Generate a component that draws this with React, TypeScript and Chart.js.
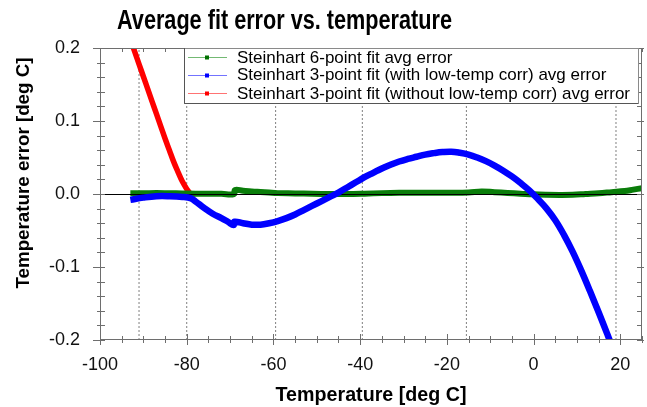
import React, { useEffect, useRef } from 'react';
import { Chart, registerables } from 'chart.js';

Chart.register(...registerables);

const TITLE = 'Average fit error vs. temperature';
const X_TITLE = 'Temperature [deg C]';
const Y_TITLE = 'Temperature error [deg C]';
const seriesNames = [
  'Steinhart 6-point fit avg error',
  'Steinhart 3-point fit (with low-temp corr) avg error',
  'Steinhart 3-point fit (without low-temp corr) avg error',
];
const seriesColors = ['#0a7d0a', '#0000ff', '#ff0000'];

const xMin = -100;
const xMax = 25;
const yMin = -0.2;
const yMax = 0.2;
const xTickValues = [-100, -80, -60, -40, -20, 0, 20];
const yTickValues = [-0.2, -0.1, 0, 0.1, 0.2];
const yTickLabels = ['-0.2', '-0.1', '0.0', '0.1', '0.2'];
const xMinorStep = 5;
const yMinorStep = 0.02;

// calibration temperatures (dotted verticals)
const calibTemps = [-91, -80, -59.5, -39.5, -15.5, 19];

// Steinhart 6-point fit
const greenTemps = [-93, -90, -87, -84, -81, -78, -75, -72, -69.1, -68.9, -67, -65, -63, -61, -59, -55, -51, -47, -43, -39, -35, -31, -27, -23, -19, -15, -12, -9, -6, -3, 0, 3, 6, 9, 12, 15, 18, 21, 23, 25];
const greenErr = [0.001, 0.001, 0.0012, 0.001, 0.0008, 0.0005, 0.0005, 0.0003, 0.0, 0.0055, 0.0045, 0.0035, 0.0027, 0.0019, 0.0012, 0.0008, 0.0003, 0.0, 0.0, 0.0005, 0.0012, 0.0016, 0.0018, 0.0018, 0.0018, 0.0022, 0.0035, 0.0025, 0.0015, 0.0005, -0.0005, -0.001, -0.0012, -0.001, 0.0, 0.001, 0.0025, 0.004, 0.006, 0.008];

// Steinhart 3-point fit with low-temp correction
const blueTemps = [-93, -90, -87, -84, -81, -79, -78, -76, -74, -72, -70.5, -69.2, -69.0, -67, -65, -63, -61, -59, -57, -55, -53, -51, -49, -47, -45, -43, -41, -39, -37, -35, -33, -31, -29, -27, -25, -23, -21, -19, -17, -15, -13, -11, -9, -7, -5, -3, -1, 1, 3, 5, 7, 9, 11, 13, 15, 17, 19];
const blueErr = [-0.008, -0.005, -0.003, -0.003, -0.004, -0.006, -0.010, -0.019, -0.027, -0.033, -0.038, -0.0425, -0.038, -0.040, -0.042, -0.042, -0.040, -0.037, -0.033, -0.028, -0.022, -0.016, -0.010, -0.004, 0.002, 0.009, 0.016, 0.023, 0.029, 0.035, 0.040, 0.0445, 0.048, 0.051, 0.054, 0.056, 0.0575, 0.058, 0.0565, 0.054, 0.050, 0.045, 0.039, 0.032, 0.024, 0.015, 0.005, -0.007, -0.020, -0.036, -0.056, -0.079, -0.105, -0.133, -0.162, -0.192, -0.223];

// Steinhart 3-point fit without low-temp correction
const redTemps = [-93, -92, -91, -90, -89, -88, -87, -86, -85, -84, -83, -82, -81, -80, -79, -78.5];
const redErr = [0.212, 0.195, 0.178, 0.161, 0.144, 0.127, 0.110, 0.093, 0.076, 0.060, 0.044, 0.030, 0.017, 0.007, -0.001, -0.005];

const pts = (xs: number[], ys: number[]) => xs.map((x, i) => ({ x, y: ys[i] }));

const FONT = "'Liberation Sans', Arial, sans-serif";

function fitText(ctx: CanvasRenderingContext2D, text: string, cx: number, base: number, width: number, font: string) {
  ctx.font = font;
  const w = ctx.measureText(text).width;
  ctx.save();
  ctx.translate(cx, base);
  ctx.scale(width / w, 1);
  ctx.textAlign = 'center';
  ctx.textBaseline = 'alphabetic';
  ctx.fillText(text, 0, 0);
  ctx.restore();
}

const decorPlugin = {
  id: 'decor',
  afterDatasetDraw(chart: any, args: any) {
    const ds = chart.data.datasets[args.index];
    if (ds.label !== seriesNames[0]) return;
    const { ctx, chartArea: a, scales } = chart;
    const py = Math.round(scales.y.getPixelForValue(0)) + 0.5;
    ctx.save();
    ctx.strokeStyle = '#000';
    ctx.lineWidth = 1;
    ctx.beginPath();
    ctx.moveTo(a.left, py);
    ctx.lineTo(a.right, py);
    ctx.stroke();
    ctx.restore();
  },
  afterDraw(chart: any) {
    const { ctx, chartArea: a, scales } = chart;
    const xs = scales.x;
    const ys = scales.y;
    ctx.save();
    ctx.strokeStyle = '#6e6e6e';
    ctx.lineWidth = 1;
    ctx.strokeRect(a.left + 0.5, a.top + 0.5, a.right - a.left - 1, a.bottom - a.top - 1);
    ctx.beginPath();
    const nX = Math.round((xMax - xMin) / xMinorStep);
    for (let k = 0; k <= nX; k++) {
      const v = xMin + k * xMinorStep;
      const major = xTickValues.includes(v);
      const px = Math.round(xs.getPixelForValue(v)) + 0.5;
      ctx.moveTo(px, a.bottom - (major ? 6 : 4));
      ctx.lineTo(px, a.bottom + (major ? 5 : 3));
      ctx.moveTo(px, a.top);
      ctx.lineTo(px, a.top + (major ? 6 : 4));
    }
    const nY = Math.round((yMax - yMin) / yMinorStep);
    for (let k = 0; k <= nY; k++) {
      const v = yMin + k * yMinorStep;
      const major = k % 5 === 0;
      const py = Math.round(ys.getPixelForValue(v)) + 0.5;
      ctx.moveTo(a.left - (major ? 7 : 3), py);
      ctx.lineTo(a.left + 5, py);
      ctx.moveTo(a.right - 5, py);
      ctx.lineTo(a.right + (major ? 2 : 0), py);
    }
    ctx.stroke();

    // legend
    const lx = 184, ly = 48, lw = 454, lh = 55;
    ctx.fillStyle = '#fff';
    ctx.fillRect(lx, ly, lw, lh);
    ctx.strokeStyle = '#8a8a8a';
    ctx.lineWidth = 1;
    ctx.strokeRect(lx + 0.5, ly + 0.5, lw, lh);
    ctx.strokeStyle = '#555';
    ctx.beginPath();
    ctx.moveTo(lx + 0.5, ly);
    ctx.lineTo(lx + 0.5, ly + lh + 0.5);
    ctx.lineTo(lx + lw, ly + lh + 0.5);
    ctx.stroke();
    const lineYs = [56.7, 75, 92.7];
    const baseYs = [63.3, 80, 99.3];
    const lightCols = ['rgba(0,128,0,0.55)', 'rgba(0,0,255,0.55)', 'rgba(255,0,0,0.55)'];
    const dotCols = ['#007000', '#0000ff', '#ff0000'];
    seriesNames.forEach((name, i) => {
      const yy = Math.round(lineYs[i]) + 0.5;
      ctx.strokeStyle = lightCols[i];
      ctx.lineWidth = 1;
      ctx.beginPath();
      ctx.moveTo(188, yy);
      ctx.lineTo(227, yy);
      ctx.stroke();
      ctx.fillStyle = dotCols[i];
      ctx.fillRect(205, yy - 2, 4, 4);
      ctx.fillStyle = '#000';
      ctx.font = `17px ${FONT}`;
      ctx.textAlign = 'left';
      ctx.textBaseline = 'alphabetic';
      ctx.fillText(name, 237, baseYs[i]);
    });

    // titles
    ctx.fillStyle = '#000';
    fitText(ctx, TITLE, 284.5, 29.3, 335, `bold 28px 'Liberation Sans Narrow', ${FONT}`);
    fitText(ctx, X_TITLE, (a.left + a.right) / 2, 401, 191, `bold 19.5px ${FONT}`);
    ctx.save();
    ctx.translate(29, 173);
    ctx.rotate(-Math.PI / 2);
    fitText(ctx, Y_TITLE, 0, 0, 231, `bold 19px ${FONT}`);
    ctx.restore();
    ctx.restore();
  },
};

export default function App() {
  const ref = useRef<HTMLCanvasElement>(null);
  useEffect(() => {
    document.body.style.margin = '0';
    const datasets: any[] = [
      {
        label: seriesNames[0],
        data: pts(greenTemps, greenErr),
        borderColor: seriesColors[0],
        borderWidth: 6,
        pointRadius: 0,
        tension: 0.4,
        order: 1,
        clip: 0,
      },
      {
        label: seriesNames[1],
        data: pts(blueTemps, blueErr),
        borderColor: seriesColors[1],
        borderWidth: 6.5,
        pointRadius: 0,
        tension: 0.4,
        order: 0,
        clip: 0,
      },
      {
        label: seriesNames[2],
        data: pts(redTemps, redErr),
        borderColor: seriesColors[2],
        borderWidth: 5.5,
        pointRadius: 0,
        tension: 0.4,
        order: 2,
        clip: 0,
      },
      ...calibTemps.map((t) => ({
        label: 'calib',
        data: [
          { x: t, y: yMin },
          { x: t, y: yMax },
        ],
        borderColor: '#808080',
        borderWidth: 1,
        borderDash: [2, 2],
        pointRadius: 0,
        order: 10,
        clip: 0,
      })),
    ];
    const chart = new Chart(ref.current!, {
      type: 'line',
      data: { datasets },
      options: {
        animation: false,
        responsive: false,
        parsing: false as any,
        layout: { padding: { top: 48, right: 5, left: 0, bottom: 0 } },
        plugins: { legend: { display: false }, title: { display: false }, tooltip: { enabled: false } },
        scales: {
          x: {
            type: 'linear',
            min: xMin,
            max: xMax,
            grid: { display: false, drawTicks: false },
            border: { display: false },
            afterBuildTicks: (s: any) => {
              s.ticks = xTickValues.map((v) => ({ value: v }));
            },
            afterFit: (s: any) => {
              s.height = 67;
            },
            ticks: {
              autoSkip: false,
              maxRotation: 0,
              padding: 14,
              color: '#111',
              font: { family: FONT, size: 18 },
              callback: (v: any) => String(v),
            },
          },
          y: {
            type: 'linear',
            min: yMin,
            max: yMax,
            grid: { display: false, drawTicks: false },
            border: { display: false },
            afterBuildTicks: (s: any) => {
              s.ticks = yTickValues.map((v) => ({ value: v }));
            },
            afterFit: (s: any) => {
              s.width = 100;
            },
            ticks: {
              padding: 20,
              color: '#111',
              font: { family: FONT, size: 18 },
              callback: (v: any) => yTickLabels[yTickValues.indexOf(v)],
            },
          },
        },
      },
      plugins: [decorPlugin],
    } as any);
    return () => chart.destroy();
  }, []);
  return (
    <div style={{ width: 647, height: 407 }}>
      <canvas ref={ref} width={647} height={407} style={{ display: 'block' }} />
    </div>
  );
}
